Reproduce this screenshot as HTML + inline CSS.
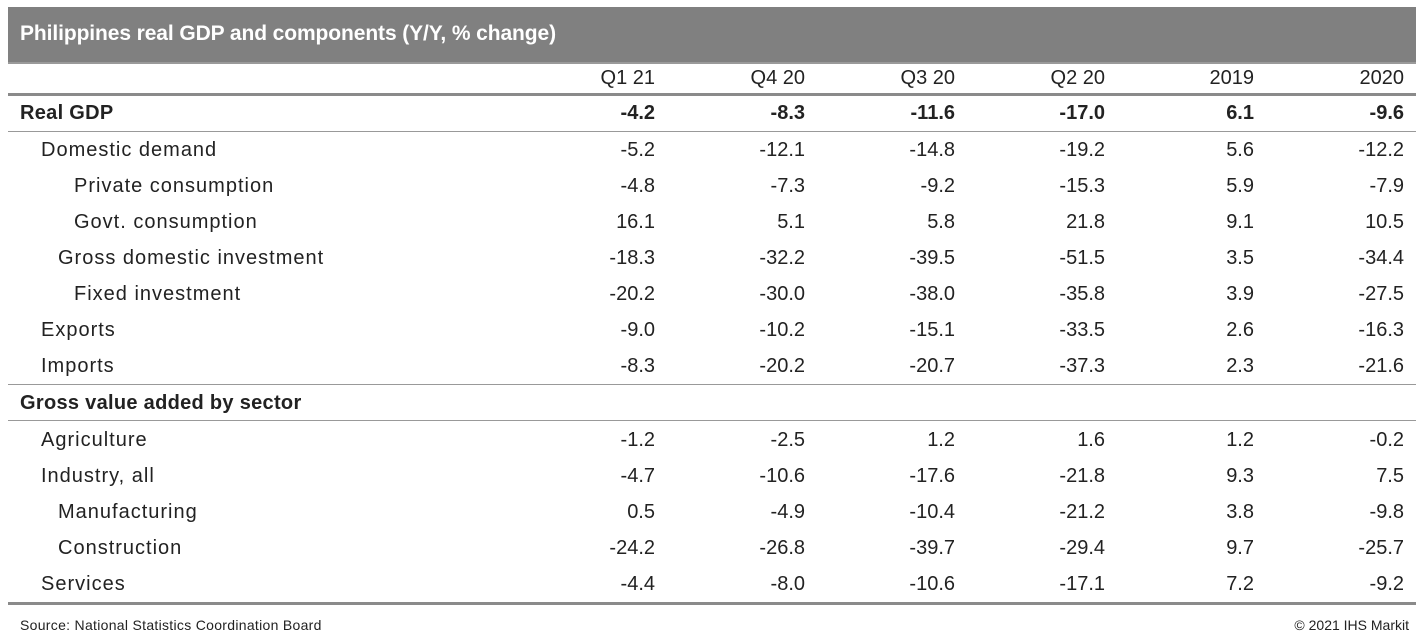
<!DOCTYPE html>
<html><head><meta charset="utf-8"><style>
body{margin:0;width:1419px;height:640px;background:#fff;position:relative;overflow:hidden;font-family:"Liberation Sans",sans-serif;color:#222}
.hd{position:absolute;left:8px;top:7px;width:1408px;height:55px;background:#808080;border-bottom:2px solid #9a9a9a}
.hd span{position:absolute;left:12px;top:15px;color:#fff;font-size:21px;font-weight:bold;letter-spacing:-0.1px}
.t{position:absolute;font-size:20px;line-height:24px;white-space:nowrap;transform:translateY(-12px);letter-spacing:1px}
.n{position:absolute;font-size:20px;line-height:24px;white-space:nowrap;text-align:right;width:100px;transform:translateY(-12px)}
.b{font-weight:bold}
.t.b{letter-spacing:0.3px}
.ln{position:absolute;left:8px;width:1408px;background:#999}
.src{position:absolute;font-size:14px;top:617px;letter-spacing:0.3px}
</style></head><body>
<div class="hd"><span>Philippines real GDP and components (Y/Y, % change)</span></div>
<div class="ln" style="top:93px;height:3px;background:#8a8a8a"></div>
<div class="ln" style="top:131px;height:1px"></div>
<div class="ln" style="top:384px;height:1px"></div>
<div class="ln" style="top:420px;height:1px"></div>
<div class="ln" style="top:602px;height:3px;background:#8a8a8a"></div>
<div id="c"></div>
<div class="src" style="left:20px">Source: National Statistics Coordination Board</div>
<div class="src" style="right:10px;letter-spacing:0">© 2021 IHS Markit</div>
<script>
var cols=[655,805,955,1105,1254,1404];
var rows=[
[78,"",0,["Q1 21","Q4 20","Q3 20","Q2 20","2019","2020"],0],
[113,"Real GDP",20,["-4.2","-8.3","-11.6","-17.0","6.1","-9.6"],1],
[150,"Domestic demand",41,["-5.2","-12.1","-14.8","-19.2","5.6","-12.2"]],
[186,"Private consumption",74,["-4.8","-7.3","-9.2","-15.3","5.9","-7.9"]],
[222,"Govt. consumption",74,["16.1","5.1","5.8","21.8","9.1","10.5"]],
[258,"Gross domestic investment",58,["-18.3","-32.2","-39.5","-51.5","3.5","-34.4"]],
[294,"Fixed investment",74,["-20.2","-30.0","-38.0","-35.8","3.9","-27.5"]],
[330,"Exports",41,["-9.0","-10.2","-15.1","-33.5","2.6","-16.3"]],
[366,"Imports",41,["-8.3","-20.2","-20.7","-37.3","2.3","-21.6"]],
[403,"Gross value added by sector",20,[],1],
[440,"Agriculture",41,["-1.2","-2.5","1.2","1.6","1.2","-0.2"]],
[476,"Industry, all",41,["-4.7","-10.6","-17.6","-21.8","9.3","7.5"]],
[512,"Manufacturing",58,["0.5","-4.9","-10.4","-21.2","3.8","-9.8"]],
[548,"Construction",58,["-24.2","-26.8","-39.7","-29.4","9.7","-25.7"]],
[584,"Services",41,["-4.4","-8.0","-10.6","-17.1","7.2","-9.2"]]];
var h="";
rows.forEach(function(r){
 var b=r[4]?" b":"";
 if(r[1])h+='<div class="t'+b+'" style="left:'+r[2]+'px;top:'+r[0]+'px">'+r[1]+'</div>';
 r[3].forEach(function(v,i){h+='<div class="n'+b+'" style="left:'+(cols[i]-100)+'px;top:'+r[0]+'px">'+v+'</div>';});
});
document.getElementById("c").innerHTML=h;
</script>
</body></html>
